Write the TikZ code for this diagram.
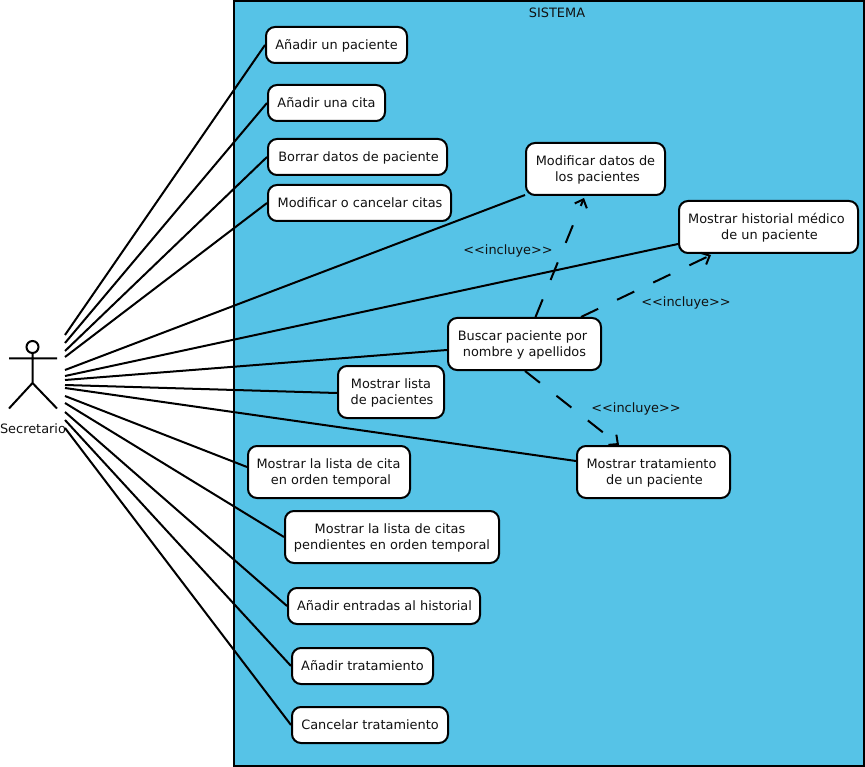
\documentclass[tikz,border=0pt]{standalone}
\usepackage{fontspec}
\setmainfont{DejaVu Sans}
\usetikzlibrary{arrows.meta}
\definecolor{sysblue}{HTML}{56C3E7}
\definecolor{ink}{HTML}{111111}
\tikzset{
  canvas/.style={x=1pt,y=-1pt},
  usecase/.style={draw=black,fill=white,line width=2pt,rounded corners=9pt,inner sep=0pt,
    font=\fontsize{12.9}{16}\selectfont,text=ink},
  assoc/.style={draw=black,line width=2pt},
  incl/.style={draw=black,line width=2pt,dash pattern=on 19pt off 21pt,-{Straight Barb[length=7pt,width=13pt,line width=2pt]}},
  lbl/.style={font=\fontsize{12.9}{16}\selectfont,text=ink,inner sep=0pt},
}
\newcommand{\uc}[6]{\node[usecase,minimum width=#4pt-#2pt,minimum height=#5pt-#3pt] (#1) at ({(#2+#4)/2},{(#3+#5)/2}) {\raisebox{-1pt}[\height][\depth]{\begin{tabular}{@{}c@{}}#6\end{tabular}}};}
\newcommand{\shl}[2]{#2\hspace*{#1pt}}
\newcommand{\shr}[2]{\hspace*{#1pt}#2}
\begin{document}
\begin{tikzpicture}[canvas]
\useasboundingbox (0,0) rectangle (865,767);
\node[draw=black,fill=sysblue,line width=2pt,minimum width=630pt,minimum height=765pt,inner sep=0pt] (sistema) at (549,383.5) {};
\node[lbl] (sistemalbl) at (557,12.5) {SISTEMA};
% use cases
\uc{a}{266}{27}{407}{63}{Añadir un paciente}
\uc{b}{268}{85}{385}{121}{Añadir una cita}
\uc{c}{268}{139}{447}{175}{\shr{2}{Borrar datos de paciente}}
\uc{d}{268}{185}{451}{221}{\shr{1}{Modificar o cancelar citas}}
\uc{e}{526}{143}{665}{195}{Modificar datos de\\ \shr{4}{los pacientes}}
\uc{f}{679}{201}{858}{253}{\shl{4}{Mostrar historial médico}\\ \shr{2}{de un paciente}}
\uc{g}{448}{318}{601}{370}{\shl{4}{Buscar paciente por}\\ nombre y apellidos}
\uc{h}{338}{366}{444}{418}{Mostrar lista\\ \shr{2}{de pacientes}}
\uc{i}{577}{446}{730}{498}{\shl{4}{Mostrar tratamiento}\\ \shr{2}{de un paciente}}
\uc{j}{248}{446}{410}{498}{\shl{1}{Mostrar la lista de cita}\\ \shr{4}{en orden temporal}}
\uc{k}{285}{511}{499}{563}{\shl{4}{Mostrar la lista de citas}\\ pendientes en orden temporal}
\uc{l}{288}{588}{480}{624}{\shr{1}{Añadir entradas al historial}}
\uc{m}{292}{648}{433}{684}{Añadir tratamiento}
\uc{n}{292}{707}{448}{743}{Cancelar tratamiento}
% actor
\node[draw=black,circle,line width=2pt,minimum size=12pt,inner sep=0pt] (head) at (32.5,347) {};
\coordinate (hip) at (32.5,383);
\coordinate (armL) at (9,358.5);
\coordinate (armR) at (57,358.5);
\coordinate (legL) at (9,408.5);
\coordinate (legR) at (57,408.5);
\draw[assoc] (head.south) -- (hip) (armL) -- (armR) (legL) -- (hip) -- (legR);
\node[lbl] (actor) at (33,428.5) {Secretario};
% free ends near the actor
\foreach \n/\y in {sa/335,sb/343,sc/351,sd/357,se/370,sf/376,sg/380,sh/385,si/388,sj/396,sk/403,sl/412,sm/420,sn/428}
  \coordinate (\n) at (65,\y);
% associations
\draw[assoc] (sa) -- (a.west);
\draw[assoc] (sb) -- (b.west);
\draw[assoc] (sc) -- (c.west);
\draw[assoc] (sd) -- (d.west);
\draw[assoc] (se) -- ([yshift=-26pt]e.west);
\draw[assoc] (sf) -- ([yshift=-17pt]f.west);
\draw[assoc] (sg) -- ([yshift=-6pt]g.west);
\draw[assoc] (sh) -- ([yshift=-1pt]h.west);
\draw[assoc] (si) -- ([yshift=11pt]i.west);
\draw[assoc] (sj) -- ([yshift=5pt]j.west);
\draw[assoc] (sk) -- (k.west);
\draw[assoc] (sl) -- (l.west);
\draw[assoc] (sm) -- (m.west);
\draw[assoc] (sn) -- (n.west);
% includes
\draw[incl] ([xshift=11pt]g.north) -- ([xshift=-11.5pt,yshift=-2pt]e.south);
\draw[incl] ([xshift=56.5pt]g.north) -- ([xshift=-57.5pt,yshift=-1pt]f.south);
\draw[incl] ([xshift=0.5pt]g.south) -- ([xshift=-34.5pt]i.north);
\node[lbl] (inca) at (508,251) {<{}<incluye>{}>};
\node[lbl] (incb) at (686,303) {<{}<incluye>{}>};
\node[lbl] (incc) at (636,409) {<{}<incluye>{}>};
\end{tikzpicture}
\end{document}
